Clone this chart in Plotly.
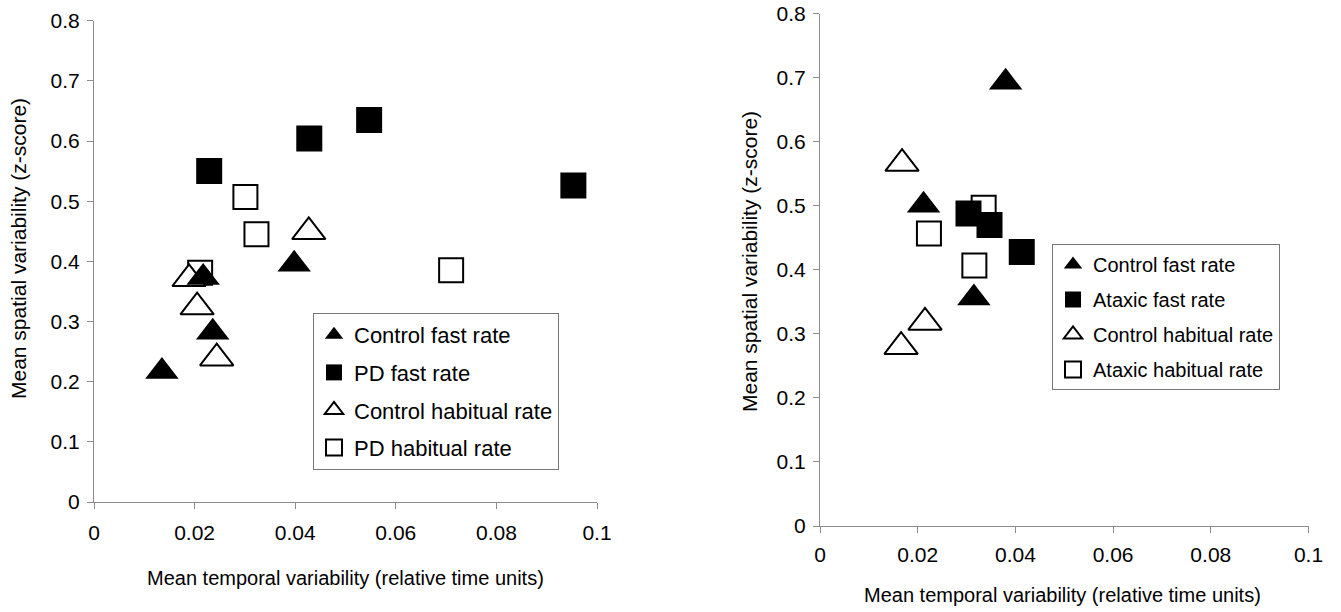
import plotly.graph_objects as go

# ---------------- Data ----------------
# Left panel: PD study
left_ctrl_fast_x = [0.0135, 0.0236, 0.0217, 0.0398]
left_ctrl_fast_y = [0.217, 0.282, 0.373, 0.395]
left_pd_fast_x = [0.0229, 0.0428, 0.0547, 0.0953]
left_pd_fast_y = [0.550, 0.604, 0.635, 0.526]
left_ctrl_hab_x = [0.0427, 0.0189, 0.0205, 0.0244]
left_ctrl_hab_y = [0.449, 0.371, 0.324, 0.239]
left_pd_hab_x = [0.0301, 0.0323, 0.0211, 0.0710]
left_pd_hab_y = [0.507, 0.445, 0.381, 0.385]

# Right panel: Ataxia study
right_ctrl_fast_x = [0.0380, 0.0212, 0.0315]
right_ctrl_fast_y = [0.693, 0.501, 0.356]
right_atx_fast_x = [0.0304, 0.0347, 0.0413]
right_atx_fast_y = [0.488, 0.470, 0.428]
right_ctrl_hab_x = [0.0168, 0.0215, 0.0166]
right_ctrl_hab_y = [0.566, 0.318, 0.280]
right_atx_hab_x = [0.0335, 0.0223, 0.0316]
right_atx_hab_y = [0.497, 0.457, 0.407]

left_names = ["Control fast rate", "PD fast rate", "Control habitual rate", "PD habitual rate"]
right_names = ["Control fast rate", "Ataxic fast rate", "Control habitual rate", "Ataxic habitual rate"]

x_title = "Mean temporal variability (relative time units)"
y_title = "Mean spatial variability (z-score)"

FONT = "Arial, 'Liberation Sans', sans-serif"
AX_COLOR = "#8c8c8c"

W, H = 1341, 612

fig = go.Figure()


def add(x, y, name, symbol, filled, xa, ya, legend, rank, tri_size=29, sq_size=26):
    if symbol == "triangle-up":
        size = tri_size
    else:
        size = sq_size if filled else sq_size - 2
    fig.add_trace(go.Scatter(
        x=x, y=y, mode="markers", name=name,
        xaxis=xa, yaxis=ya, legend=legend, legendrank=rank,
        legendgroup=legend + name,
        marker=dict(symbol=symbol, size=size,
                    color="black" if filled else "white",
                    line=dict(color="black", width=0 if filled else 2)),
    ))


# open (habitual) markers first so filled ones sit on top
add(left_pd_hab_x, left_pd_hab_y, left_names[3], "square", False, "x", "y", "legend", 4)
add(left_ctrl_hab_x, left_ctrl_hab_y, left_names[2], "triangle-up", False, "x", "y", "legend", 3)
add(left_pd_fast_x, left_pd_fast_y, left_names[1], "square", True, "x", "y", "legend", 2)
add(left_ctrl_fast_x, left_ctrl_fast_y, left_names[0], "triangle-up", True, "x", "y", "legend", 1)

add(right_atx_hab_x, right_atx_hab_y, right_names[3], "square", False, "x2", "y2", "legend2", 4)
add(right_ctrl_hab_x, right_ctrl_hab_y, right_names[2], "triangle-up", False, "x2", "y2", "legend2", 3)
add(right_atx_fast_x, right_atx_fast_y, right_names[1], "square", True, "x2", "y2", "legend2", 2)
add(right_ctrl_fast_x, right_ctrl_fast_y, right_names[0], "triangle-up", True, "x2", "y2", "legend2", 1)


def px_x(p):
    return p / W


def px_y(p):
    return 1 - p / H


axis_common = dict(
    showline=True, linecolor=AX_COLOR, linewidth=1,
    ticks="outside", ticklen=6, tickcolor=AX_COLOR, tickwidth=1,
    showgrid=False, zeroline=False, automargin=False,
    tickfont=dict(family=FONT, size=21, color="black"),
)

fig.update_layout(
    width=W, height=H,
    margin=dict(l=0, r=0, t=0, b=0),
    paper_bgcolor="white", plot_bgcolor="white",
    font=dict(family=FONT, color="black"),
    xaxis=dict(domain=[px_x(94), px_x(597)], range=[0, 0.1], dtick=0.02,
               anchor="y", ticklabelstandoff=6, **axis_common),
    yaxis=dict(domain=[px_y(502), px_y(20.7)], range=[0, 0.8], dtick=0.1,
               anchor="x", ticklabelstandoff=3, **axis_common),
    xaxis2=dict(domain=[px_x(820), px_x(1308.5)], range=[0, 0.1], dtick=0.02,
                anchor="y2", ticklabelstandoff=4, **axis_common),
    yaxis2=dict(domain=[px_y(526), px_y(13.8)], range=[0, 0.8], dtick=0.1,
                anchor="x2", ticklabelstandoff=3, **axis_common),
    legend=dict(x=px_x(313), y=px_y(313), xanchor="left", yanchor="top",
                bordercolor="#777777", borderwidth=1, bgcolor="white",
                font=dict(family=FONT, size=22, color="black"),
                traceorder="grouped", tracegroupgap=6),
    legend2=dict(x=px_x(1052), y=px_y(244), xanchor="left", yanchor="top",
                 bordercolor="#777777", borderwidth=1, bgcolor="white",
                 font=dict(family=FONT, size=20, color="black"),
                 traceorder="grouped", tracegroupgap=6),
    showlegend=True,
)

x_title_font = dict(family=FONT, size=20, color="black")
y_title_font = dict(family=FONT, size=21, color="black")
annots = [
    dict(text=x_title, x=px_x(345), y=px_y(578), font=x_title_font),
    dict(text=x_title, x=px_x(1062), y=px_y(595), font=x_title_font),
    dict(text=y_title, x=px_x(18), y=px_y(249), textangle=-90, font=y_title_font),
    dict(text=y_title, x=px_x(749), y=px_y(262), textangle=-90, font=y_title_font),
]
for a in annots:
    fig.add_annotation(xref="paper", yref="paper", showarrow=False,
                       xanchor="center", yanchor="middle", **a)

fig.write_html(
    "out.html",
    config={"displayModeBar": False},
    post_script="document.body.style.margin='0';document.body.style.overflow='hidden';",
)
